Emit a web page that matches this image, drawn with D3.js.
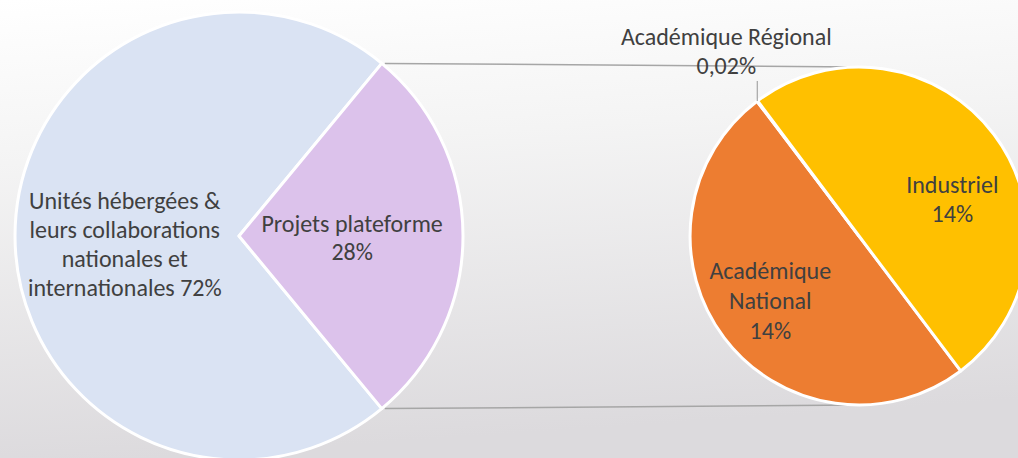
<!DOCTYPE html>
<html>
<head>
<meta charset="utf-8">
<script src="https://cdn.jsdelivr.net/npm/d3@7"></script>
<style>
  html, body { margin: 0; padding: 0; }
  body { width: 1018px; height: 458px; overflow: hidden; }
  svg { display: block; }
</style>
</head>
<body>
<div id="chart"></div>
<script>
// Pie of pie - répartition des projets
const mainCategories = ["Unités hébergées & leurs collaborations nationales et internationales", "Projets plateforme"];
const mainValues = [72, 28];
const mainLabels = [
  ["Unités hébergées &", "leurs collaborations", "nationales et", "internationales 72%"],
  ["Projets plateforme", "28%"]
];
const mainColors = ["#dae3f3", "#dcc2eb"];

const subCategories = ["Académique National", "Académique Régional", "Industriel"];
const subValues = [14, 0.02, 14];
const subLabels = [
  ["Académique", "National", "14%"],
  ["Académique Régional", "0,02%"],
  ["Industriel", "14%"]
];
const subColors = ["#ed7d31", "#a5a5a5", "#ffc000"];

const width = 1018;
const height = 458;
const fontFamily = "Carlito, Calibri, Lato, sans-serif";
const fontSize = 24;
const textColor = "#404040";

const svg = d3.select('#chart')
  .append('svg')
  .attr('width', width)
  .attr('height', height);

// background gradient
const defs = svg.append('defs');
const grad = defs.append('linearGradient')
  .attr('id', 'bg')
  .attr('x1', 0).attr('y1', 0)
  .attr('x2', 0.15).attr('y2', 1);
grad.append('stop').attr('offset', '0%').attr('stop-color', '#ffffff');
grad.append('stop').attr('offset', '35%').attr('stop-color', '#f4f4f4');
grad.append('stop').attr('offset', '100%').attr('stop-color', '#dcdadd');

svg.append('rect')
  .attr('width', width)
  .attr('height', height)
  .attr('fill', 'url(#bg)');

// main pie
const c1 = { x: 239, y: 236, r: 224 };
const mainHalf = Math.PI * mainValues[1] / d3.sum(mainValues);
const mainPie = d3.pie()
  .sort(null)
  .startAngle(Math.PI / 2 + mainHalf)
  .endAngle(Math.PI / 2 + mainHalf + 2 * Math.PI);
const mainArcs = mainPie(mainValues);

// second pie
const c2 = { x: 859, y: 236, r: 169 };
const subStart = 143 * Math.PI / 180;
const subPie = d3.pie()
  .sort(null)
  .startAngle(subStart)
  .endAngle(subStart + 2 * Math.PI);
const subArcs = subPie(subValues);

// connector lines (from purple wedge edges to top/bottom of second pie)
const edge = a => [c1.x + c1.r * Math.sin(a), c1.y - c1.r * Math.cos(a)];
const p1 = edge(mainArcs[1].startAngle);
const p2 = edge(mainArcs[1].endAngle);
svg.append('g')
  .selectAll('line')
  .data([[p1, [c2.x, c2.y - c2.r]], [p2, [c2.x, c2.y + c2.r]]])
  .join('line')
  .attr('x1', d => d[0][0] + 3)
  .attr('y1', d => d[0][1])
  .attr('x2', d => d[1][0])
  .attr('y2', d => d[1][1])
  .attr('stroke', '#a6a6a6')
  .attr('stroke-width', 1.5);

const arc1 = d3.arc().innerRadius(0).outerRadius(c1.r);
const g1 = svg.append('g').attr('transform', `translate(${c1.x},${c1.y})`);
g1.selectAll('path')
  .data(mainArcs)
  .join('path')
  .attr('d', arc1)
  .attr('fill', (d, i) => mainColors[i])
  .attr('stroke', '#fff')
  .attr('stroke-width', 3)
  .attr('stroke-linejoin', 'round');

const arc2 = d3.arc().innerRadius(0).outerRadius(c2.r);
const g2 = svg.append('g').attr('transform', `translate(${c2.x},${c2.y})`);
g2.selectAll('path')
  .data(subArcs)
  .join('path')
  .attr('d', arc2)
  .attr('fill', (d, i) => subColors[i])
  .attr('stroke', '#fff')
  .attr('stroke-width', 3)
  .attr('stroke-linejoin', 'round');

// labels
function drawLabel(g, lines, cx, cy, lh) {
  const t = g.append('text')
    .attr('text-anchor', 'middle')
    .attr('font-family', fontFamily)
    .attr('font-size', fontSize)
    .attr('fill', textColor);
  const top = cy - (lines.length - 1) * lh / 2;
  lines.forEach((s, i) => {
    t.append('tspan')
      .attr('x', cx)
      .attr('y', top + i * lh)
      .attr('dy', '0.35em')
      .text(s);
  });
  return t;
}

// label centroid helper: radius factor along the slice bisector
const labelPos = (arcs, i, c, k) => {
  const a = (arcs[i].startAngle + arcs[i].endAngle) / 2;
  return [c.x + k * c.r * Math.sin(a), c.y - k * c.r * Math.cos(a)];
};

let p = labelPos(mainArcs, 0, c1, 0.51);
drawLabel(svg, mainLabels[0], p[0], p[1] + 8, 29);
p = labelPos(mainArcs, 1, c1, 0.505);
drawLabel(svg, mainLabels[1], p[0], p[1] + 2, 28);

p = labelPos(subArcs, 0, c2, 0.68);
drawLabel(svg, subLabels[0], p[0] + 3, p[1] - 5, 30);
p = labelPos(subArcs, 2, c2, 0.58);
drawLabel(svg, subLabels[2], p[0] + 15, p[1] + 22, 29);

// Académique Régional: label outside with leader line
const ra = (subArcs[1].startAngle + subArcs[1].endAngle) / 2;
const rx = c2.x + c2.r * Math.sin(ra);
const ry = c2.y - c2.r * Math.cos(ra);
svg.append('line')
  .attr('x1', rx).attr('y1', ry)
  .attr('x2', rx).attr('y2', ry - 20)
  .attr('stroke', '#a6a6a6')
  .attr('stroke-width', 1.2);
drawLabel(svg, subLabels[1], rx - 31, ry - 49.5, 29);
</script>
</body>
</html>
